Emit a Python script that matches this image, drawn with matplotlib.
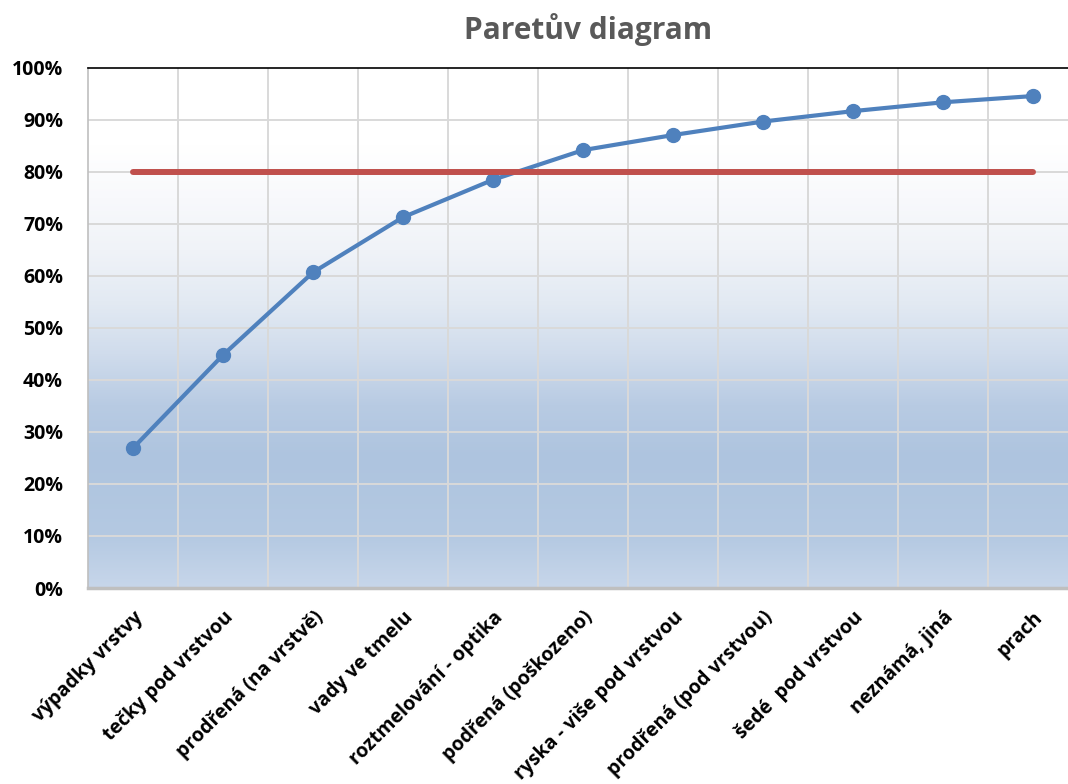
import numpy as np
import matplotlib
matplotlib.use("Agg")
import matplotlib.pyplot as plt
from matplotlib.colors import LinearSegmentedColormap

categories = [
    "výpadky vrstvy",
    "tečky pod vrstvou",
    "prodřená (na vrstvě)",
    "vady ve tmelu",
    "roztmelování - optika",
    "podřená (poškozeno)",
    "ryska - više pod vrstvou",
    "prodřená (pod vrstvou)",
    "šedé  pod vrstvou",
    "neznámá, jiná",
    "prach",
]
cumulative_pct = [26.9, 44.8, 60.7, 71.3, 78.5, 84.2, 87.1, 89.7, 91.7, 93.4, 94.6]
threshold_pct = 80
y_ticks = [0, 10, 20, 30, 40, 50, 60, 70, 80, 90, 100]

plt.rcParams["font.family"] = ["Open Sans", "DejaVu Sans"]

fig = plt.figure(figsize=(10.68, 7.84), dpi=100)
ax = fig.add_axes([0.0824, 0.25, 0.927, 0.6633])

x = np.arange(len(categories))
ax.set_xlim(-0.5, len(categories) - 0.5)
ax.set_ylim(0, 100)

# vertical gradient fill of the plot area
grad_cmap = LinearSegmentedColormap.from_list(
    "plotfill",
    [
        (0.00, "#c7d6ea"),
        (0.10, "#b4c9e2"),
        (0.25, "#aec4df"),
        (0.35, "#b8cbe3"),
        (0.45, "#d0dcec"),
        (0.55, "#e3eaf3"),
        (0.65, "#f0f3f8"),
        (0.75, "#f8f9fc"),
        (0.85, "#ffffff"),
        (1.00, "#ffffff"),
    ],
)
grad = np.linspace(0, 1, 256).reshape(-1, 1)
ax.imshow(grad, cmap=grad_cmap, aspect="auto", origin="lower",
          extent=(0, 1, 0, 1), transform=ax.transAxes, zorder=0)

# gridlines
for yv in y_ticks[1:-1]:
    ax.axhline(yv, color="#d9d9d9", lw=1.4, zorder=1)
for xv in x[:-1] + 0.5:
    ax.axvline(xv, color="#d9d9d9", lw=1.4, zorder=1)

ax.plot(x, cumulative_pct, color="#4f81bd", lw=3.0, marker="o",
        markersize=10, zorder=3, solid_capstyle="round")
ax.plot([x[0], x[-1]], [threshold_pct, threshold_pct], color="#c0504d",
        lw=4.3, zorder=4, solid_capstyle="round")

ax.set_yticks(y_ticks)
ax.set_yticklabels([f"{v}%" for v in y_ticks], fontsize=14,
                   fontweight="bold", color="black")
ax.set_xticks(x)
ax.set_xticklabels(categories, rotation=45, ha="right",
                   rotation_mode="anchor", fontsize=14,
                   fontweight="bold", color="black")
ax.tick_params(axis="both", length=0)
ax.tick_params(axis="y", pad=18)
ax.tick_params(axis="x", pad=14)

ax.spines["left"].set_color("#bfbfbf")
ax.spines["left"].set_linewidth(1.2)
ax.spines["bottom"].set_color("#bfbfbf")
ax.spines["bottom"].set_linewidth(2.5)
ax.spines["top"].set_color("black")
ax.spines["top"].set_linewidth(1.2)
ax.spines["right"].set_visible(False)

fig.text(0.551, 0.963, "Paretův diagram", ha="center", va="center",
         fontsize=21.5, fontweight="bold", color="#595959")

fig.savefig("out.png", dpi=100)
